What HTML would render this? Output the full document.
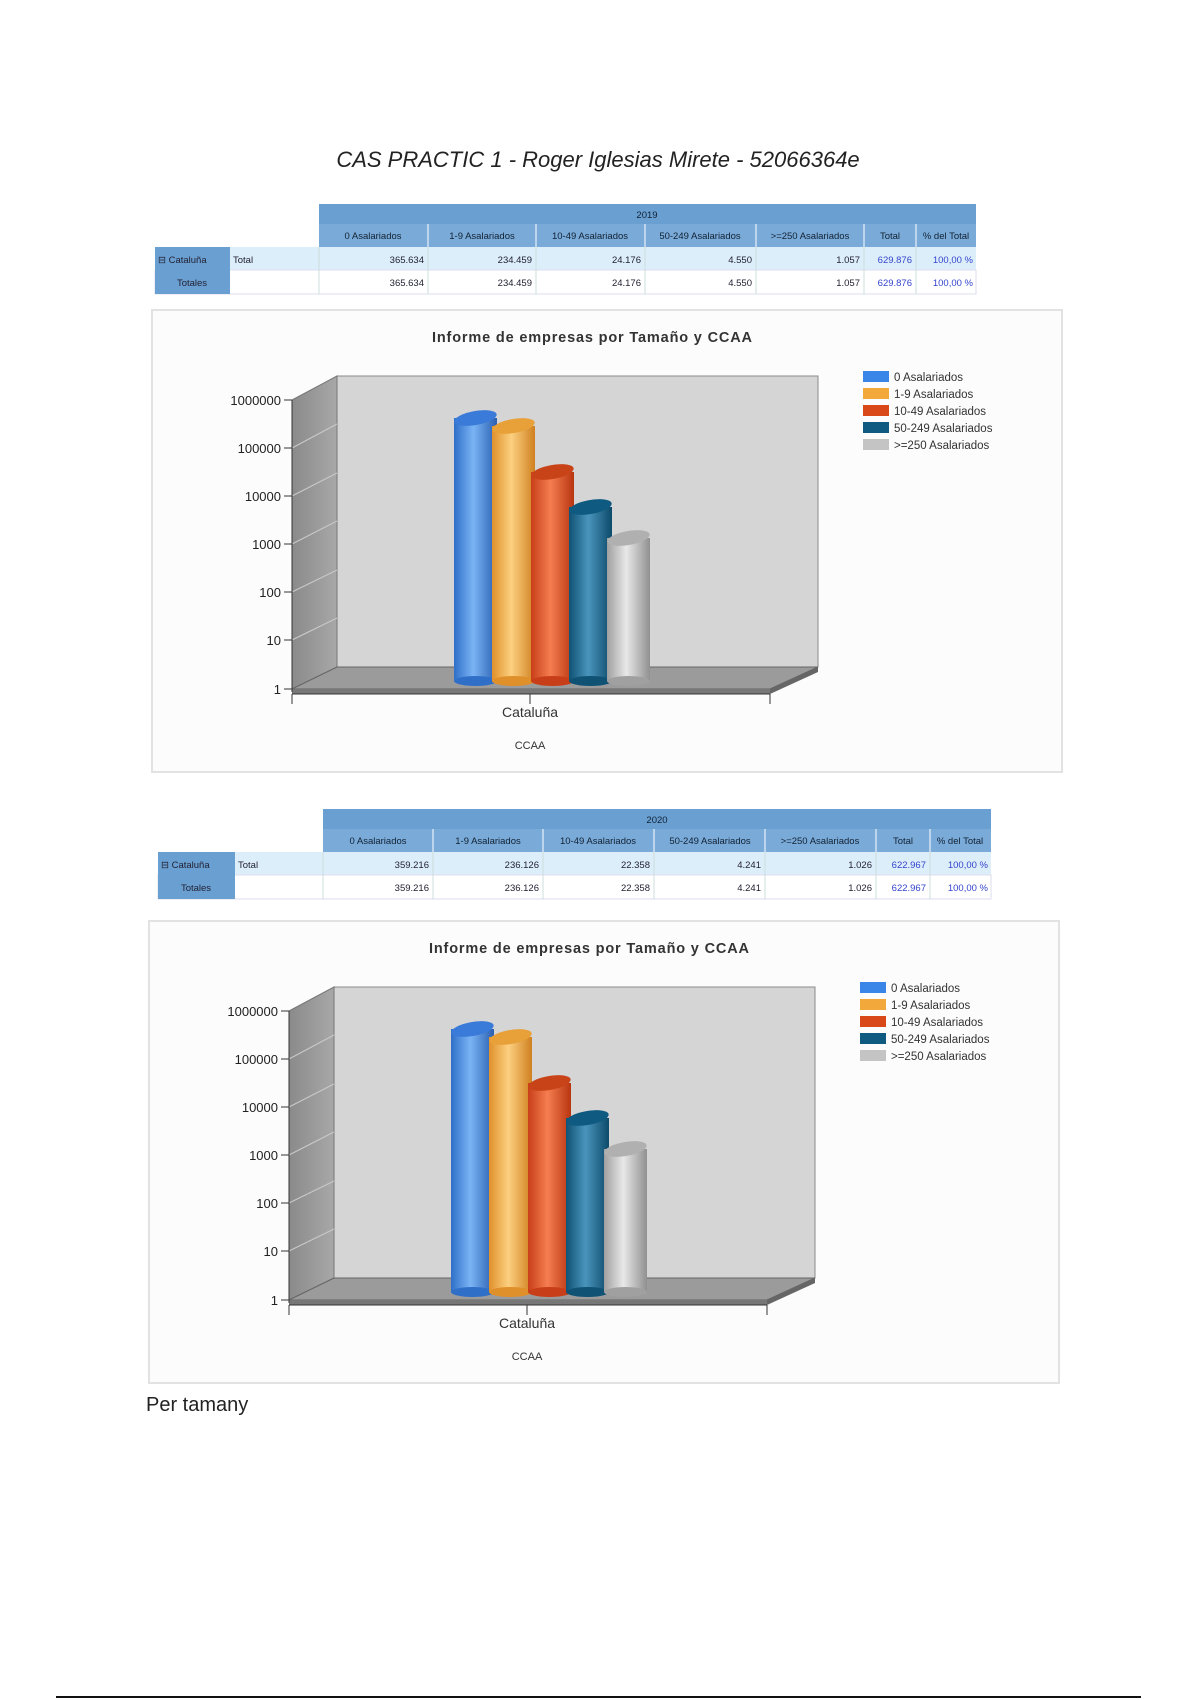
<!DOCTYPE html>
<html><head><meta charset="utf-8"><style>
html,body{margin:0;padding:0;background:#fff;}
svg{display:block;}
</style></head><body>
<svg width="1200" height="1700" viewBox="0 0 1200 1700" xmlns="http://www.w3.org/2000/svg" font-family="Liberation Sans, sans-serif">
<defs>
<linearGradient id="gb" x1="0" x2="1" y1="0" y2="0"><stop offset="0" stop-color="#2f6fc8"/><stop offset="0.45" stop-color="#7ab4f5"/><stop offset="1" stop-color="#2a5fb0"/></linearGradient>
<linearGradient id="go" x1="0" x2="1" y1="0" y2="0"><stop offset="0" stop-color="#e0902a"/><stop offset="0.45" stop-color="#fcd080"/><stop offset="1" stop-color="#d08020"/></linearGradient>
<linearGradient id="gr" x1="0" x2="1" y1="0" y2="0"><stop offset="0" stop-color="#c83e18"/><stop offset="0.45" stop-color="#f57e50"/><stop offset="1" stop-color="#b83510"/></linearGradient>
<linearGradient id="gt" x1="0" x2="1" y1="0" y2="0"><stop offset="0" stop-color="#0f5274"/><stop offset="0.45" stop-color="#4a94bc"/><stop offset="1" stop-color="#0c4a6a"/></linearGradient>
<linearGradient id="gg" x1="0" x2="1" y1="0" y2="0"><stop offset="0" stop-color="#a0a0a0"/><stop offset="0.45" stop-color="#e8e8e8"/><stop offset="1" stop-color="#909090"/></linearGradient>
<linearGradient id="wall" x1="0" x2="1" y1="0" y2="0"><stop offset="0" stop-color="#8a8a8a"/><stop offset="1" stop-color="#a8a8a8"/></linearGradient>

<g id="chart">
<rect x="152" y="310" width="910" height="462" fill="#fcfcfc" stroke="#e2e2e2" stroke-width="2"/>
<text x="592" y="342" font-size="14.5" font-weight="bold" text-anchor="middle" fill="#333" textLength="320">Informe de empresas por Tamaño y CCAA</text>
<rect x="337" y="376" width="481" height="291" fill="#d5d5d5" stroke="#8a8a8a"/>
<polygon points="292,400 337,376 337,667 292,689" fill="url(#wall)" stroke="#777"/>
<g stroke="#c8c8c8" stroke-width="1.2">
<line x1="292" y1="448" x2="337" y2="424"/><line x1="292" y1="496" x2="337" y2="473"/>
<line x1="292" y1="544" x2="337" y2="521"/><line x1="292" y1="592" x2="337" y2="570"/>
<line x1="292" y1="640" x2="337" y2="618"/>
</g>
<polygon points="292,689 337,667 818,667 770,689" fill="#9b9b9b" stroke="#666"/>
<polygon points="292,689 770,689 770,694 292,694" fill="#777"/>
<polygon points="770,689 818,667 818,672 770,694" fill="#666"/>
<line x1="292" y1="400" x2="292" y2="692" stroke="#333"/>
<line x1="292" y1="694" x2="770" y2="694" stroke="#333"/>
<line x1="292" y1="694" x2="292" y2="704" stroke="#333"/>
<line x1="530" y1="694" x2="530" y2="704" stroke="#333"/>
<line x1="770" y1="694" x2="770" y2="704" stroke="#333"/>
<g stroke="#333"><line x1="284" y1="400" x2="292" y2="400"/><line x1="284" y1="448" x2="292" y2="448"/><line x1="284" y1="496" x2="292" y2="496"/><line x1="284" y1="544" x2="292" y2="544"/><line x1="284" y1="592" x2="292" y2="592"/><line x1="284" y1="640" x2="292" y2="640"/><line x1="284" y1="689" x2="292" y2="689"/></g>
<g font-size="13" fill="#222" text-anchor="end">
<text x="281" y="405">1000000</text><text x="281" y="453">100000</text><text x="281" y="501">10000</text><text x="281" y="549">1000</text><text x="281" y="597">100</text><text x="281" y="645">10</text><text x="281" y="694">1</text>
</g>
<g>
<rect x="454" y="418" width="43" height="263" fill="url(#gb)"/><ellipse cx="475.5" cy="681" rx="21.5" ry="5" fill="#2f6fc8"/><ellipse cx="475.5" cy="418" rx="21.5" ry="7" fill="#3a7ad8" transform="rotate(-10 475.5 418)"/>
<rect x="492" y="426" width="43" height="255" fill="url(#go)"/><ellipse cx="513.5" cy="681" rx="21.5" ry="5" fill="#e0902a"/><ellipse cx="513.5" cy="426" rx="21.5" ry="7" fill="#e8a038" transform="rotate(-10 513.5 426)"/>
<rect x="531" y="472" width="43" height="209" fill="url(#gr)"/><ellipse cx="552.5" cy="681" rx="21.5" ry="5" fill="#c83e18"/><ellipse cx="552.5" cy="472" rx="21.5" ry="7" fill="#c84418" transform="rotate(-10 552.5 472)"/>
<rect x="569" y="507" width="43" height="174" fill="url(#gt)"/><ellipse cx="590.5" cy="681" rx="21.5" ry="5" fill="#0f5274"/><ellipse cx="590.5" cy="507" rx="21.5" ry="7" fill="#0e5a80" transform="rotate(-10 590.5 507)"/>
<rect x="607" y="538" width="43" height="143" fill="url(#gg)"/><ellipse cx="628.5" cy="681" rx="21.5" ry="5" fill="#a0a0a0"/><ellipse cx="628.5" cy="538" rx="21.5" ry="7" fill="#b0b0b0" transform="rotate(-10 628.5 538)"/>
</g>
<text x="530" y="717" font-size="14" text-anchor="middle" fill="#333">Cataluña</text>
<text x="530" y="749" font-size="11" text-anchor="middle" fill="#333">CCAA</text>
<g font-size="11.5" fill="#333">
<rect x="863" y="371" width="26" height="11" fill="#3a86e8"/><text x="894" y="381">0 Asalariados</text>
<rect x="863" y="388" width="26" height="11" fill="#f2a83a"/><text x="894" y="398">1-9 Asalariados</text>
<rect x="863" y="405" width="26" height="11" fill="#d84818"/><text x="894" y="415">10-49 Asalariados</text>
<rect x="863" y="422" width="26" height="11" fill="#0e5a80"/><text x="894" y="432">50-249 Asalariados</text>
<rect x="863" y="439" width="26" height="11" fill="#c4c4c4"/><text x="894" y="449">&gt;=250 Asalariados</text>
</g>
</g>
</defs>

<text x="598" y="167" font-size="22" font-style="italic" text-anchor="middle" fill="#222">CAS PRACTIC 1 - Roger Iglesias Mirete - 52066364e</text>

<g font-size="9.5" fill="#223">
<rect x="319" y="204" width="657" height="20" fill="#6a9fd2"/>
<text x="647" y="218" text-anchor="middle" fill="#123">2019</text>
<rect x="319" y="224" width="657" height="23" fill="#7aaad8"/>
<g stroke="#fff"><line x1="428" y1="224" x2="428" y2="294"/><line x1="536" y1="224" x2="536" y2="294"/><line x1="645" y1="224" x2="645" y2="294"/><line x1="756" y1="224" x2="756" y2="294"/><line x1="864" y1="224" x2="864" y2="294"/><line x1="916" y1="224" x2="916" y2="294"/></g>
<g text-anchor="middle" fill="#123"><text x="373" y="239">0 Asalariados</text><text x="482" y="239">1-9 Asalariados</text><text x="590" y="239">10-49 Asalariados</text><text x="700" y="239">50-249 Asalariados</text><text x="810" y="239">&gt;=250 Asalariados</text><text x="890" y="239">Total</text><text x="946" y="239">% del Total</text></g>
<rect x="155" y="247" width="821" height="23" fill="#ddeefb"/>
<rect x="155" y="270" width="821" height="24" fill="#fff" stroke="#dde"/>
<rect x="155" y="247" width="75" height="23" fill="#6a9fd2"/>
<rect x="155" y="270" width="75" height="24" fill="#6a9fd2"/>
<g stroke="#cdd"><line x1="319" y1="247" x2="319" y2="294"/><line x1="428" y1="247" x2="428" y2="294"/><line x1="536" y1="247" x2="536" y2="294"/><line x1="645" y1="247" x2="645" y2="294"/><line x1="756" y1="247" x2="756" y2="294"/><line x1="864" y1="247" x2="864" y2="294"/><line x1="916" y1="247" x2="916" y2="294"/></g>
<text x="158" y="263">⊟ Cataluña</text><text x="233" y="263">Total</text>
<text x="192" y="286" text-anchor="middle">Totales</text>
<g text-anchor="end"><text x="424" y="263">365.634</text><text x="532" y="263">234.459</text><text x="641" y="263">24.176</text><text x="752" y="263">4.550</text><text x="860" y="263">1.057</text><text x="912" y="263" fill="#3344cc">629.876</text><text x="973" y="263" fill="#3344cc">100,00 %</text>
<text x="424" y="286">365.634</text><text x="532" y="286">234.459</text><text x="641" y="286">24.176</text><text x="752" y="286">4.550</text><text x="860" y="286">1.057</text><text x="912" y="286" fill="#3344cc">629.876</text><text x="973" y="286" fill="#3344cc">100,00 %</text></g>
</g>

<use href="#chart"/>

<g font-size="9.5" fill="#223">
<rect x="323" y="809" width="668" height="20" fill="#6a9fd2"/>
<text x="657" y="823" text-anchor="middle" fill="#123">2020</text>
<rect x="323" y="829" width="668" height="23" fill="#7aaad8"/>
<g stroke="#fff"><line x1="433" y1="829" x2="433" y2="899"/><line x1="543" y1="829" x2="543" y2="899"/><line x1="654" y1="829" x2="654" y2="899"/><line x1="765" y1="829" x2="765" y2="899"/><line x1="876" y1="829" x2="876" y2="899"/><line x1="930" y1="829" x2="930" y2="899"/></g>
<g text-anchor="middle" fill="#123"><text x="378" y="844">0 Asalariados</text><text x="488" y="844">1-9 Asalariados</text><text x="598" y="844">10-49 Asalariados</text><text x="710" y="844">50-249 Asalariados</text><text x="820" y="844">&gt;=250 Asalariados</text><text x="903" y="844">Total</text><text x="960" y="844">% del Total</text></g>
<rect x="158" y="852" width="833" height="23" fill="#ddeefb"/>
<rect x="158" y="875" width="833" height="24" fill="#fff" stroke="#dde"/>
<rect x="158" y="852" width="77" height="23" fill="#6a9fd2"/>
<rect x="158" y="875" width="77" height="24" fill="#6a9fd2"/>
<g stroke="#cdd"><line x1="323" y1="852" x2="323" y2="899"/><line x1="433" y1="852" x2="433" y2="899"/><line x1="543" y1="852" x2="543" y2="899"/><line x1="654" y1="852" x2="654" y2="899"/><line x1="765" y1="852" x2="765" y2="899"/><line x1="876" y1="852" x2="876" y2="899"/><line x1="930" y1="852" x2="930" y2="899"/></g>
<text x="161" y="868">⊟ Cataluña</text><text x="238" y="868">Total</text>
<text x="196" y="891" text-anchor="middle">Totales</text>
<g text-anchor="end"><text x="429" y="868">359.216</text><text x="539" y="868">236.126</text><text x="650" y="868">22.358</text><text x="761" y="868">4.241</text><text x="872" y="868">1.026</text><text x="926" y="868" fill="#3344cc">622.967</text><text x="988" y="868" fill="#3344cc">100,00 %</text>
<text x="429" y="891">359.216</text><text x="539" y="891">236.126</text><text x="650" y="891">22.358</text><text x="761" y="891">4.241</text><text x="872" y="891">1.026</text><text x="926" y="891" fill="#3344cc">622.967</text><text x="988" y="891" fill="#3344cc">100,00 %</text></g>
</g>

<use href="#chart" transform="translate(-3,611)"/>

<text x="146" y="1411" font-size="20" fill="#222">Per tamany</text>
<line x1="56" y1="1697" x2="1141" y2="1697" stroke="#111" stroke-width="2"/>
</svg>
</body></html>
